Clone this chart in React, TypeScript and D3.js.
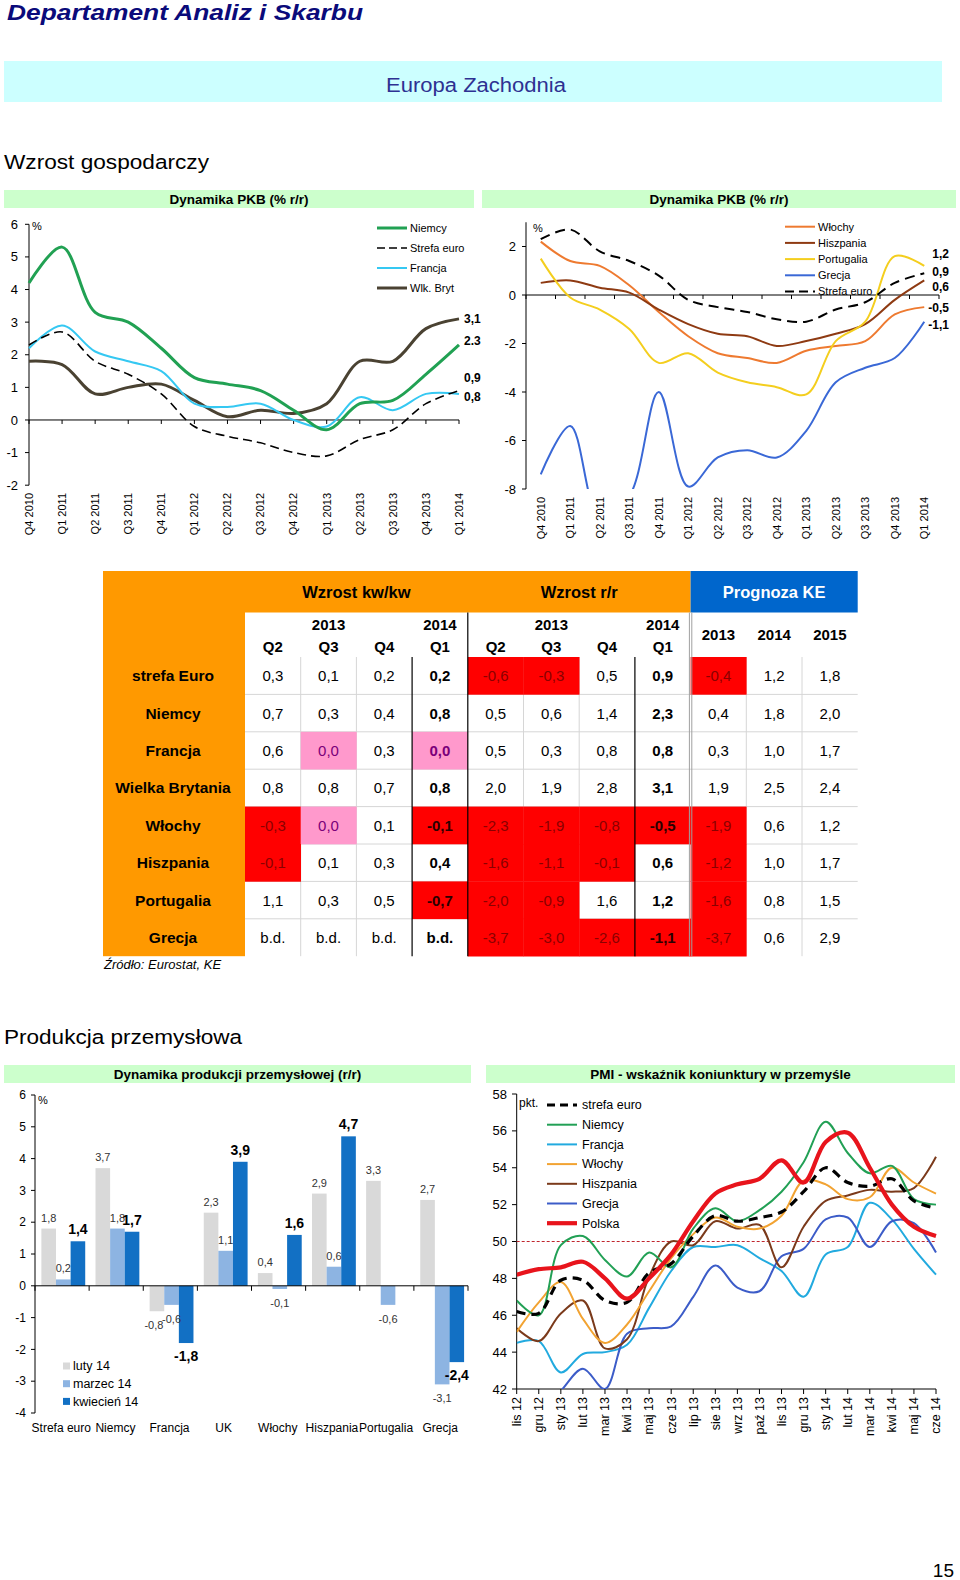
import React from 'react';
import * as d3 from 'd3';

const NARROW = "'Liberation Sans Narrow','Arial Narrow','Liberation Sans',Arial,sans-serif";
const SANS = "'Liberation Sans',Arial,Helvetica,sans-serif";

// ---------- GDP (quarterly, % r/r) ----------
const quarters = ['Q4 2010', 'Q1 2011', 'Q2 2011', 'Q3 2011', 'Q4 2011', 'Q1 2012', 'Q2 2012', 'Q3 2012', 'Q4 2012', 'Q1 2013', 'Q2 2013', 'Q3 2013', 'Q4 2013', 'Q1 2014'];
const gdpNiemcy = [4.2, 5.3, 3.3, 3.0, 2.2, 1.3, 1.1, 0.9, 0.3, -0.3, 0.5, 0.6, 1.4, 2.3];
const gdpStrefaEuro = [2.3, 2.7, 1.8, 1.4, 0.8, -0.2, -0.5, -0.7, -1.0, -1.1, -0.6, -0.3, 0.5, 0.9];
const gdpFrancja = [2.2, 2.9, 2.1, 1.8, 1.5, 0.5, 0.4, 0.5, 0.0, -0.2, 0.7, 0.3, 0.8, 0.8];
const gdpWlkBryt = [1.8, 1.7, 0.8, 1.0, 1.1, 0.6, 0.1, 0.3, 0.2, 0.5, 1.8, 1.8, 2.8, 3.1];
const gdpWlochy = [2.2, 1.4, 1.2, 0.4, -0.7, -1.7, -2.4, -2.6, -2.8, -2.3, -2.1, -1.9, -0.8, -0.5];
const gdpHiszpania = [0.5, 0.6, 0.3, 0.1, -0.6, -1.2, -1.6, -1.7, -2.1, -1.9, -1.6, -1.2, -0.2, 0.6];
const gdpPortugalia = [1.5, -0.1, -0.6, -1.4, -2.8, -2.4, -3.2, -3.6, -3.8, -4.1, -1.9, -1.1, 1.6, 1.2];
const gdpGrecja = [-7.4, -5.4, -9.2, -8.3, -4.0, -7.9, -6.7, -6.4, -6.7, -5.6, -3.6, -3.0, -2.6, -1.1];
const gdpLeftTicks = [-2, -1, 0, 1, 2, 3, 4, 5, 6];
const gdpRightTicks = [-8, -6, -4, -2, 0, 2];

// ---------- Table ----------
const tableRows = ['strefa Euro', 'Niemcy', 'Francja', 'Wielka Brytania', 'Włochy', 'Hiszpania', 'Portugalia', 'Grecja'];
const kwkw = [
  [0.3, 0.1, 0.2, 0.2], [0.7, 0.3, 0.4, 0.8], [0.6, 0.0, 0.3, 0.0], [0.8, 0.8, 0.7, 0.8],
  [-0.3, 0.0, 0.1, -0.1], [-0.1, 0.1, 0.3, 0.4], [1.1, 0.3, 0.5, -0.7], [null, null, null, null],
];
const rr = [
  [-0.6, -0.3, 0.5, 0.9], [0.5, 0.6, 1.4, 2.3], [0.5, 0.3, 0.8, 0.8], [2.0, 1.9, 2.8, 3.1],
  [-2.3, -1.9, -0.8, -0.5], [-1.6, -1.1, -0.1, 0.6], [-2.0, -0.9, 1.6, 1.2], [-3.7, -3.0, -2.6, -1.1],
];
const forecastKE = [
  [-0.4, 1.2, 1.8], [0.4, 1.8, 2.0], [0.3, 1.0, 1.7], [1.9, 2.5, 2.4],
  [-1.9, 0.6, 1.2], [-1.2, 1.0, 1.7], [-1.6, 0.8, 1.5], [-3.7, 0.6, 2.9],
];
const quarterHeads = ['Q2', 'Q3', 'Q4', 'Q1'];
const forecastYears = ['2013', '2014', '2015'];

// ---------- Industrial production ----------
const prodCats = ['Strefa euro', 'Niemcy', 'Francja', 'UK', 'Włochy', 'Hiszpania', 'Portugalia', 'Grecja'];
const prodSeriesNames = ['luty 14', 'marzec 14', 'kwiecień 14'];
const prodLuty = [1.8, 3.7, -0.8, 2.3, 0.4, 2.9, 3.3, 2.7];
const prodMarzec = [0.2, 1.8, -0.6, 1.1, -0.1, 0.6, -0.6, -3.1];
const prodKwiecien = [1.4, 1.7, -1.8, 3.9, 1.6, 4.7, null, -2.4];
const prodTicks = [-4, -3, -2, -1, 0, 1, 2, 3, 4, 5, 6];

// ---------- PMI ----------
const months = ['lis 12', 'gru 12', 'sty 13', 'lut 13', 'mar 13', 'kwi 13', 'maj 13', 'cze 13', 'lip 13', 'sie 13', 'wrz 13', 'paź 13', 'lis 13', 'gru 13', 'sty 14', 'lut 14', 'mar 14', 'kwi 14', 'maj 14', 'cze 14'];
const pmiStrefaEuro = [46.2, 46.1, 47.9, 47.9, 46.8, 46.7, 48.3, 48.8, 50.3, 51.4, 51.1, 51.3, 51.6, 52.7, 54.0, 53.2, 53.0, 53.4, 52.2, 51.8];
const pmiNiemcy = [46.8, 46.0, 49.8, 50.3, 49.0, 48.1, 49.4, 48.6, 50.7, 51.8, 51.1, 51.7, 52.7, 54.3, 56.5, 54.8, 53.7, 54.1, 52.3, 52.0];
const pmiFrancja = [44.5, 44.6, 42.9, 43.9, 44.0, 44.4, 46.4, 48.4, 49.7, 49.7, 49.8, 49.1, 48.4, 47.0, 49.3, 49.7, 52.1, 51.2, 49.6, 48.2];
const pmiWlochy = [45.1, 46.7, 47.8, 45.8, 44.5, 45.5, 47.3, 49.1, 50.4, 51.3, 50.8, 50.7, 51.4, 53.3, 53.1, 52.3, 52.4, 54.0, 53.2, 52.6];
const pmiHiszpania = [45.3, 44.6, 46.1, 46.8, 44.2, 44.7, 48.1, 50.0, 49.8, 51.1, 50.7, 50.9, 48.6, 50.8, 52.2, 52.5, 52.8, 52.7, 52.9, 54.6];
const pmiGrecja = [41.2, 40.7, 41.9, 43.1, 42.0, 45.0, 45.3, 45.4, 47.0, 48.7, 47.5, 47.3, 49.2, 49.6, 51.2, 51.3, 49.7, 51.1, 51.0, 49.4];
const pmiPolska = [48.2, 48.5, 48.6, 48.9, 48.0, 46.9, 48.0, 49.3, 51.1, 52.6, 53.1, 53.4, 54.4, 53.2, 55.4, 55.9, 54.0, 52.0, 50.8, 50.3];
const pmiTicks = [42, 44, 46, 48, 50, 52, 54, 56, 58];

const fmt = (v: number | null) => (v === null ? 'b.d.' : v.toFixed(1).replace('.', ','));

const RotLabel = ({ x, y, text, size }: { x: number; y: number; text: string; size: number }) => (
  <text transform={`translate(${x},${y}) rotate(-90)`} textAnchor="end" dy="0.35em" fontSize={size} fontFamily={SANS} fill="#000">
    {text}
  </text>
);

const GreenBar = ({ x, y, w, h, title }: any) => (
  <g>
    <rect x={x} y={y} width={w} height={h} fill="#CCFFCC" />
    <text x={x + w / 2} y={y + h / 2} dy="0.36em" textAnchor="middle" fontFamily={SANS} fontWeight="bold" fontSize={13.5} fill="#000">
      {title}
    </text>
  </g>
);

function GdpLeft() {
  const x = d3.scalePoint<string>().domain(quarters).range([29, 459]);
  const y = d3.scaleLinear().domain([-2, 6]).range([485.2, 224.3]);
  const line = d3
    .line<number>()
    .x((_, i) => x(quarters[i]) as number)
    .y((d) => y(d))
    .curve(d3.curveCatmullRom.alpha(0.5));
  const series = [
    { name: 'Niemcy', data: gdpNiemcy, color: '#21A153', w: 3, dash: '' },
    { name: 'Strefa euro', data: gdpStrefaEuro, color: '#000', w: 1.6, dash: '9,5' },
    { name: 'Francja', data: gdpFrancja, color: '#35C8F2', w: 2, dash: '' },
    { name: 'Wlk. Bryt', data: gdpWlkBryt, color: '#4A4232', w: 3, dash: '' },
  ];
  const drawOrder = [3, 2, 0, 1];
  const endLabels = [
    { v: gdpWlkBryt[13], t: '3,1', off: 0 },
    { v: gdpNiemcy[13], t: '2.3', off: -4 },
    { v: gdpStrefaEuro[13], t: '0,9', off: -13 },
    { v: gdpFrancja[13], t: '0,8', off: 3 },
  ];
  return (
    <g>
      <line x1={29} x2={29} y1={y(6)} y2={y(-2)} stroke="#000" />
      {gdpLeftTicks.map((t) => (
        <g key={t}>
          <line x1={25} x2={29} y1={y(t)} y2={y(t)} stroke="#000" />
          <text x={18} y={y(t)} dy="0.35em" textAnchor="end" fontSize={13} fontFamily={SANS}>{t}</text>
        </g>
      ))}
      <line x1={29} x2={459} y1={y(0)} y2={y(0)} stroke="#000" />
      {quarters.map((q) => (
        <g key={q}>
          <line x1={x(q)} x2={x(q)} y1={y(0)} y2={y(0) + 4} stroke="#000" />
          <RotLabel x={x(q) as number} y={493} text={q} size={11} />
        </g>
      ))}
      <text x={32} y={226} dy="0.35em" fontSize={11} fontFamily={SANS}>%</text>
      {drawOrder.map((i) => (
        <path key={i} d={line(series[i].data) || ''} fill="none" stroke={series[i].color} strokeWidth={series[i].w} strokeDasharray={series[i].dash} />
      ))}
      {series.map((s, i) => (
        <g key={s.name}>
          <line x1={377} x2={407} y1={228 + i * 20} y2={228 + i * 20} stroke={s.color} strokeWidth={s.w} strokeDasharray={s.dash ? '8,4' : ''} />
          <text x={410} y={228 + i * 20} dy="0.35em" fontSize={11} fontFamily={SANS}>{s.name}</text>
        </g>
      ))}
      {endLabels.map((l) => (
        <text key={l.t} x={464} y={y(l.v) + l.off} dy="0.35em" fontSize={12} fontWeight="bold" fontFamily={SANS}>{l.t}</text>
      ))}
    </g>
  );
}

function GdpRight() {
  const x = d3.scalePoint<string>().domain(quarters).range([526, 939]).padding(0.5);
  const y = d3.scaleLinear().domain([-8, 3]).range([489, 222.25]);
  const step = x.step();
  const line = d3
    .line<number>()
    .x((_, i) => x(quarters[i]) as number)
    .y((d) => y(d))
    .curve(d3.curveCatmullRom.alpha(0.5));
  const series = [
    { name: 'Włochy', data: gdpWlochy, color: '#EE7A30', w: 2, dash: '' },
    { name: 'Hiszpania', data: gdpHiszpania, color: '#8E3A12', w: 2, dash: '' },
    { name: 'Portugalia', data: gdpPortugalia, color: '#F4CE1E', w: 2, dash: '' },
    { name: 'Grecja', data: gdpGrecja, color: '#3A68D6', w: 2, dash: '' },
    { name: 'Strefa euro', data: gdpStrefaEuro, color: '#000', w: 2, dash: '10,6' },
  ];
  const endLabels = [
    { v: gdpPortugalia[13], t: '1,2', off: -12 },
    { v: gdpStrefaEuro[13], t: '0,9', off: -1 },
    { v: gdpHiszpania[13], t: '0,6', off: 6 },
    { v: gdpWlochy[13], t: '-0,5', off: 1 },
    { v: gdpGrecja[13], t: '-1,1', off: 3 },
  ];
  return (
    <g>
      <defs>
        <clipPath id="clipR">
          <rect x={526} y={210} width={430} height={y(-8) - 210} />
        </clipPath>
      </defs>
      <line x1={526} x2={526} y1={y(3)} y2={y(-8)} stroke="#000" />
      {gdpRightTicks.map((t) => (
        <g key={t}>
          <line x1={522} x2={526} y1={y(t)} y2={y(t)} stroke="#000" />
          <text x={516} y={y(t)} dy="0.35em" textAnchor="end" fontSize={13} fontFamily={SANS}>{t}</text>
        </g>
      ))}
      <line x1={526} x2={526 + step * quarters.length} y1={y(0)} y2={y(0)} stroke="#000" />
      {d3.range(quarters.length + 1).map((i) => (
        <line key={i} x1={526 + i * step} x2={526 + i * step} y1={y(0)} y2={y(0) + 4} stroke="#000" />
      ))}
      {quarters.map((q) => (
        <RotLabel key={q} x={x(q) as number} y={497} text={q} size={11} />
      ))}
      <text x={533} y={228} dy="0.35em" fontSize={11} fontFamily={SANS}>%</text>
      <g clipPath="url(#clipR)">
        {series.map((s) => (
          <path key={s.name} d={line(s.data) || ''} fill="none" stroke={s.color} strokeWidth={s.w} strokeDasharray={s.dash} />
        ))}
      </g>
      {series.map((s, i) => (
        <g key={s.name}>
          <line x1={785} x2={815} y1={226.7 + i * 16.2} y2={226.7 + i * 16.2} stroke={s.color} strokeWidth={2} strokeDasharray={s.dash ? '9,5' : ''} />
          <text x={818} y={226.7 + i * 16.2} dy="0.35em" fontSize={11} fontFamily={SANS}>{s.name}</text>
        </g>
      ))}
      {endLabels.map((l) => (
        <text key={l.t} x={949} y={y(l.v) + l.off} dy="0.35em" textAnchor="end" fontSize={12} fontWeight="bold" fontFamily={SANS}>{l.t}</text>
      ))}
    </g>
  );
}

function GdpTable() {
  const cols = d3.scaleBand<number>().domain(d3.range(11)).range([245, 857.7]);
  const cw = cols.bandwidth();
  const rowTop = 657;
  const rh = 37.4;
  const rowsY = d3.scaleBand<number>().domain(d3.range(tableRows.length)).range([rowTop, rowTop + rh * tableRows.length]);
  const bottom = rowTop + rh * tableRows.length;
  const cellFill = (v: number | null) => (v === null ? null : v < 0 ? '#FF0000' : v === 0 ? '#FF99CC' : null);
  const textFill = (v: number | null) => (v === null ? '#000' : v < 0 ? '#8A0000' : v === 0 ? '#7A007A' : '#000');
  const cells: { r: number; c: number; v: number | null; bold: boolean }[] = [];
  tableRows.forEach((_, r) => {
    kwkw[r].forEach((v, i) => cells.push({ r, c: i, v, bold: i === 3 }));
    rr[r].forEach((v, i) => cells.push({ r, c: 4 + i, v, bold: i === 3 }));
    forecastKE[r].forEach((v, i) => cells.push({ r, c: 8 + i, v, bold: false }));
  });
  const grayV = [1, 2, 5, 6, 9, 10];
  const xAt = (c: number) => cols(c) as number;
  return (
    <g fontFamily={NARROW}>
      <rect x={103} y={571} width={xAt(8) - 103} height={41.5} fill="#FF9900" />
      <rect x={103} y={571} width={245 - 103} height={bottom - 571} fill="#FF9900" />
      <rect x={xAt(8)} y={571} width={857.7 - xAt(8)} height={41.5} fill="#0066CC" />
      <text x={(245 + xAt(4)) / 2} y={592} dy="0.36em" textAnchor="middle" fontWeight="bold" fontSize={16.5}>Wzrost kw/kw</text>
      <text x={(xAt(4) + xAt(8)) / 2} y={592} dy="0.36em" textAnchor="middle" fontWeight="bold" fontSize={16.5}>Wzrost r/r</text>
      <text x={(xAt(8) + 857.7) / 2} y={592} dy="0.36em" textAnchor="middle" fontWeight="bold" fontSize={16.5} fill="#fff">Prognoza KE</text>
      {[0, 4].map((g) => (
        <g key={g}>
          <text x={xAt(g + 1) + cw / 2} y={630} textAnchor="middle" fontWeight="bold" fontSize={15}>2013</text>
          <text x={xAt(g + 3) + cw / 2} y={630} textAnchor="middle" fontWeight="bold" fontSize={15}>2014</text>
          {quarterHeads.map((q, i) => (
            <text key={q} x={xAt(g + i) + cw / 2} y={652} textAnchor="middle" fontWeight="bold" fontSize={15}>{q}</text>
          ))}
        </g>
      ))}
      {forecastYears.map((yr, i) => (
        <text key={yr} x={xAt(8 + i) + cw / 2} y={640} textAnchor="middle" fontWeight="bold" fontSize={15}>{yr}</text>
      ))}
      {d3.range(1, tableRows.length).map((r) => (
        <line key={r} x1={245} x2={857.7} y1={rowsY(r)} y2={rowsY(r)} stroke="#D6D6D6" />
      ))}
      {grayV.map((c) => (
        <line key={c} x1={xAt(c)} x2={xAt(c)} y1={rowTop} y2={bottom} stroke="#D6D6D6" />
      ))}
      {cells.map((cell, i) => {
        const f = cellFill(cell.v);
        return f ? <rect key={i} x={xAt(cell.c)} y={rowsY(cell.r)} width={cw + 0.3} height={rh + 0.3} fill={f} /> : null;
      })}
      <line x1={xAt(3)} x2={xAt(3)} y1={rowTop} y2={bottom} stroke="#000" strokeWidth={1.2} />
      <line x1={xAt(4)} x2={xAt(4)} y1={612.5} y2={bottom} stroke="#000" strokeWidth={1.2} />
      <line x1={xAt(7)} x2={xAt(7)} y1={rowTop} y2={bottom} stroke="#000" strokeWidth={1.2} />
      <line x1={xAt(8) - 1.2} x2={xAt(8) - 1.2} y1={612.5} y2={bottom} stroke="#A0A0A0" strokeWidth={1} />
      <line x1={xAt(8) + 1.2} x2={xAt(8) + 1.2} y1={612.5} y2={bottom} stroke="#A0A0A0" strokeWidth={1} />
      {cells.map((cell, i) => (
        <text key={i} x={xAt(cell.c) + cw / 2} y={(rowsY(cell.r) as number) + rh / 2} dy="0.36em" textAnchor="middle" fontSize={15} fontWeight={cell.bold ? 'bold' : 'normal'} fill={cell.bold && cell.v !== null && cell.v < 0 ? '#2a0000' : textFill(cell.v)}>
          {fmt(cell.v)}
        </text>
      ))}
      {tableRows.map((name, r) => (
        <text key={name} x={173} y={(rowsY(r) as number) + rh / 2} dy="0.36em" textAnchor="middle" fontWeight="bold" fontSize={15.5}>{name}</text>
      ))}
      <text x={104} y={969} fontFamily={SANS} fontStyle="italic" fontSize={13}>Źródło: Eurostat, KE</text>
    </g>
  );
}

function ProdChart() {
  const y = d3.scaleLinear().domain([-4, 6]).range([1413, 1095]);
  const x0 = d3.scaleBand<string>().domain(prodCats).range([35, 468]).paddingInner(0.19).paddingOuter(0.095).align(0.62);
  const x1 = d3.scaleBand<number>().domain([0, 1, 2]).range([0, x0.bandwidth()]);
  const data = [prodLuty, prodMarzec, prodKwiecien];
  const colors = ['#D9D9D9', '#8DB4E2', '#1270C4'];
  const groupStep = (468 - 35) / prodCats.length;
  return (
    <g fontFamily={SANS}>
      <line x1={35} x2={35} y1={y(6)} y2={y(-4)} stroke="#000" />
      {prodTicks.map((t) => (
        <g key={t}>
          <line x1={31} x2={35} y1={y(t)} y2={y(t)} stroke="#000" />
          <text x={26} y={y(t)} dy="0.35em" textAnchor="end" fontSize={12}>{t}</text>
        </g>
      ))}
      <text x={38} y={1100} dy="0.35em" fontSize={11}>%</text>
      {data.map((ser, s) =>
        ser.map((v, i) =>
          v === null ? null : (
            <rect key={`${s}-${i}`} x={(x0(prodCats[i]) as number) + (x1(s) as number)} y={y(Math.max(0, v))} width={x1.bandwidth()} height={Math.abs(y(v) - y(0))} fill={colors[s]} />
          )
        )
      )}
      <line x1={35} x2={468} y1={y(0)} y2={y(0)} stroke="#000" />
      {d3.range(prodCats.length + 1).map((i) => (
        <line key={i} x1={35 + i * groupStep} x2={35 + i * groupStep} y1={y(0)} y2={y(0) + 5} stroke="#000" />
      ))}
      {data.map((ser, s) =>
        ser.map((v, i) => {
          if (v === null) return null;
          const cx = (x0(prodCats[i]) as number) + (x1(s) as number) + x1.bandwidth() / 2;
          const bold = s === 2;
          const yy = v >= 0 ? y(v) - 7 : y(v) + 18;
          const dx = s === 0 && v < 0 ? -3 : 0;
          return (
            <text key={`l${s}-${i}`} x={cx + dx} y={yy} textAnchor="middle" fontSize={bold ? 14 : 11} fontWeight={bold ? 'bold' : 'normal'} fill={bold ? '#000' : '#333'}>
              {fmt(v)}
            </text>
          );
        })
      )}
      {prodCats.map((c) => (
        <text key={c} x={(x0(c) as number) + x0.bandwidth() / 2 - 2} y={1432} textAnchor="middle" fontSize={12}>{c}</text>
      ))}
      {prodSeriesNames.map((n, i) => (
        <g key={n}>
          <rect x={63} y={1366 + i * 17.7 - 3.5} width={7} height={7} fill={colors[i]} />
          <text x={73} y={1366 + i * 17.7} dy="0.35em" fontSize={12.5}>{n}</text>
        </g>
      ))}
    </g>
  );
}

function PmiChart() {
  const x = d3.scalePoint<string>().domain(months).range([516.7, 936]);
  const y = d3.scaleLinear().domain([42, 58]).range([1389, 1094]);
  const line = d3
    .line<number>()
    .x((_, i) => x(months[i]) as number)
    .y((d) => y(d))
    .curve(d3.curveCatmullRom.alpha(0.5));
  const series = [
    { name: 'strefa euro', data: pmiStrefaEuro, color: '#000', w: 3.2, dash: '9,6' },
    { name: 'Niemcy', data: pmiNiemcy, color: '#22A055', w: 2, dash: '' },
    { name: 'Francja', data: pmiFrancja, color: '#22AADF', w: 2, dash: '' },
    { name: 'Włochy', data: pmiWlochy, color: '#F2A332', w: 2, dash: '' },
    { name: 'Hiszpania', data: pmiHiszpania, color: '#7B3A1B', w: 2, dash: '' },
    { name: 'Grecja', data: pmiGrecja, color: '#3C5CC8', w: 2, dash: '' },
    { name: 'Polska', data: pmiPolska, color: '#E8141C', w: 4.2, dash: '' },
  ];
  const drawOrder = [2, 5, 4, 3, 1, 0, 6];
  return (
    <g fontFamily={SANS}>
      <defs>
        <clipPath id="clipP">
          <rect x={516.7} y={1080} width={430} height={y(42) - 1080} />
        </clipPath>
      </defs>
      <line x1={516.7} x2={516.7} y1={y(58)} y2={y(42)} stroke="#000" />
      {pmiTicks.map((t) => (
        <g key={t}>
          <line x1={512} x2={516.7} y1={y(t)} y2={y(t)} stroke="#000" />
          <text x={507} y={y(t)} dy="0.35em" textAnchor="end" fontSize={13}>{t}</text>
        </g>
      ))}
      <line x1={516.7} x2={936} y1={y(42)} y2={y(42)} stroke="#000" />
      {months.map((m) => (
        <g key={m}>
          <line x1={x(m)} x2={x(m)} y1={y(42)} y2={y(42) + 5} stroke="#000" />
          <RotLabel x={x(m) as number} y={1397} text={m} size={12.5} />
        </g>
      ))}
      <line x1={516.7} x2={936} y1={y(50)} y2={y(50)} stroke="#C0262E" strokeDasharray="3,2" strokeWidth={1} />
      <g clipPath="url(#clipP)">
        {drawOrder.map((i) => (
          <path key={i} d={line(series[i].data) || ''} fill="none" stroke={series[i].color} strokeWidth={series[i].w} strokeDasharray={series[i].dash} />
        ))}
      </g>
      <text x={519} y={1103} dy="0.35em" fontSize={12}>pkt.</text>
      {series.map((s, i) => (
        <g key={s.name}>
          <line x1={547} x2={577} y1={1105 + i * 19.7} y2={1105 + i * 19.7} stroke={s.color} strokeWidth={s.w} strokeDasharray={s.dash ? '8,5' : ''} />
          <text x={582} y={1105 + i * 19.7} dy="0.35em" fontSize={12.5}>{s.name}</text>
        </g>
      ))}
    </g>
  );
}

export default function App() {
  return (
    <svg width={960} height={1580} viewBox="0 0 960 1580" style={{ position: 'absolute', left: 0, top: 0, background: '#fff' }}>
      <rect x={0} y={0} width={960} height={1580} fill="#fff" />
      <text x={7} y={20} fontFamily={NARROW} fontWeight="bold" fontStyle="italic" fontSize={22} fill="#0A0A7A" textLength={356} lengthAdjust="spacingAndGlyphs">
        Departament Analiz i Skarbu
      </text>
      <rect x={4} y={61} width={938} height={41} fill="#CCFFFF" />
      <text x={476} y={92} textAnchor="middle" fontFamily={NARROW} fontSize={20} fill="#2E3192" textLength={180} lengthAdjust="spacingAndGlyphs">
        Europa Zachodnia
      </text>
      <text x={4} y={169} fontFamily={NARROW} fontSize={20.5} fill="#000" textLength={205} lengthAdjust="spacingAndGlyphs">
        Wzrost gospodarczy
      </text>
      <GreenBar x={4} y={190} w={470} h={18} title="Dynamika PKB (% r/r)" />
      <GreenBar x={482} y={190} w={474} h={18} title="Dynamika PKB (% r/r)" />
      <GdpLeft />
      <GdpRight />
      <GdpTable />
      <text x={4} y={1044} fontFamily={NARROW} fontSize={20.5} fill="#000" textLength={238} lengthAdjust="spacingAndGlyphs">
        Produkcja przemysłowa
      </text>
      <GreenBar x={4} y={1065} w={467} h={18} title="Dynamika produkcji przemysłowej (r/r)" />
      <GreenBar x={486} y={1065} w={469} h={18} title="PMI - wskaźnik koniunktury w przemyśle" />
      <ProdChart />
      <PmiChart />
      <text x={954} y={1577} textAnchor="end" fontFamily={SANS} fontSize={19}>15</text>
    </svg>
  );
}
